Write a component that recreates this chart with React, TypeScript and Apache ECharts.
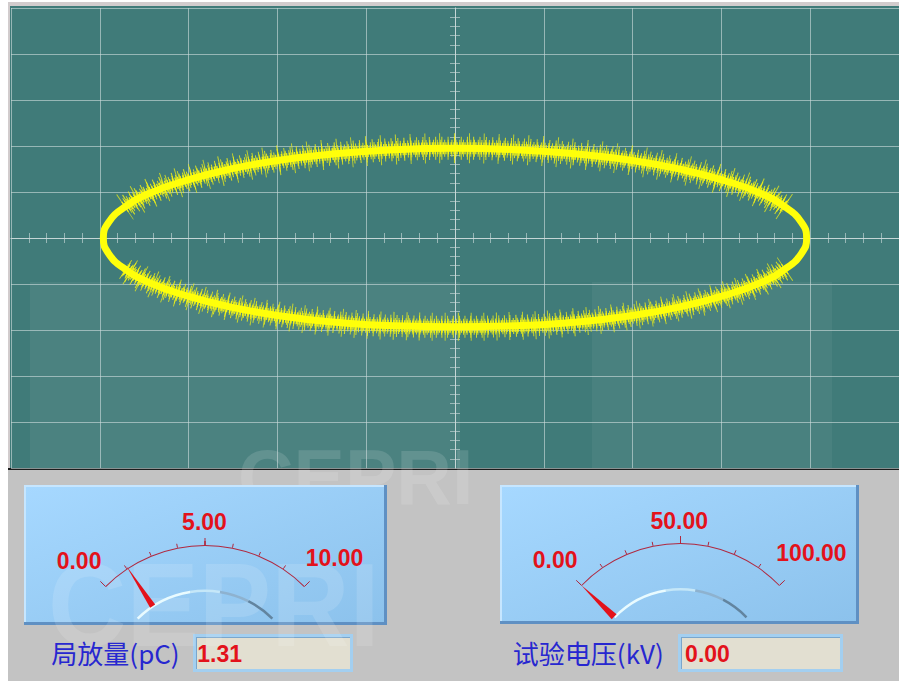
import React, { useEffect, useRef } from 'react';
import * as echarts from 'echarts';

// Lissajous trace (x: divisions, y: divisions), traced clockwise from the top
const ellipseX = [0, 0.69, 1.35, 1.98, 2.55, 3.03, 3.43, 3.72, 3.9, 3.96, 3.9, 3.72, 3.43, 3.03, 2.55, 1.98, 1.35, 0.69, 0, -0.69, -1.35, -1.98, -2.55, -3.03, -3.43, -3.72, -3.9, -3.96, -3.9, -3.72, -3.43, -3.03, -2.55, -1.98, -1.35, -0.69, 0];
const ellipseY = [1.95, 1.92, 1.83, 1.69, 1.49, 1.25, 0.98, 0.67, 0.34, 0, -0.34, -0.67, -0.98, -1.25, -1.49, -1.69, -1.83, -1.91, -1.93, -1.91, -1.83, -1.69, -1.49, -1.25, -0.98, -0.67, -0.34, 0, 0.34, 0.67, 0.98, 1.25, 1.49, 1.69, 1.83, 1.92, 1.95];

// meters
const gaugeNames = ['局放量(pC)', '试验电压(kV)'];
const gaugeValues = [1.31, 0.0];
const gaugeMax = [10, 100];
const gauge1Ticks = ['0.00', '5.00', '10.00'];
const gauge2Ticks = ['0.00', '50.00', '100.00'];

const TEAL = '#407b79';
const GRIDC = 'rgba(205,220,220,0.62)';
const RED = '#e3121b';
const ARC = '#b0283f';

const pts = ellipseX.map((x, i) => [x, ellipseY[i]]);
const topArc = [...pts.slice(29), ...pts.slice(1, 8)];
const bottomArc = pts.slice(11, 26);

const spike = (data: number[][], width: number, dash: number[], opacity: number, offset = 0) => ({
  type: 'line', data, smooth: 0.5, symbol: 'none', silent: true, z: 3,
  lineStyle: { width, type: dash, dashOffset: offset, color: '#f4f414', opacity, cap: 'butt' },
});

const centerAxisX = (position: string) => ({
  type: 'value', position, min: -5, max: 5, interval: 1,
  axisLine: { show: true, onZero: true, onZeroAxisIndex: 0, lineStyle: { color: GRIDC, width: 1 } },
  axisTick: { show: false },
  minorTick: { show: true, splitNumber: 5, length: 5, lineStyle: { color: GRIDC, width: 1 } },
  axisLabel: { show: false }, splitLine: { show: false },
});

const labelFont = { fontSize: 23, fontWeight: 'bold', fontFamily: 'Liberation Sans', color: RED };

const meterGauge = (center: number[], radius: number, start: number, end: number, idx: number, titleOff: number[], detailOff: number[], needle: number[]) => ({
  type: 'gauge', center, radius, startAngle: start, endAngle: end, min: 0, max: gaugeMax[idx], splitNumber: 2, z: 4,
  axisLine: { lineStyle: { width: 1, color: [[1, ARC]] } },
  splitLine: { length: 7, distance: -8, lineStyle: { color: ARC, width: 1 } },
  axisTick: { splitNumber: 4, length: 4, distance: -5, lineStyle: { color: ARC, width: 1 } },
  axisLabel: { show: false },
  pointer: { icon: 'path://M3,0 L6,48 L0,48 Z', length: needle[0], width: needle[1], offsetCenter: [0, -needle[2]], itemStyle: { color: RED } },
  anchor: { show: false },
  title: { offsetCenter: titleOff, fontSize: 26, color: '#2727d0', fontFamily: 'Noto Sans CJK SC' },
  detail: { offsetCenter: detailOff, formatter: (v: number) => v.toFixed(2), padding: 0, lineHeight: 23, width: 60, valueAnimation: false, ...labelFont },
  data: [{ value: gaugeValues[idx], name: gaugeNames[idx] }],
});

const arcGauge = (center: number[], radius: number, start: number, end: number) => ({
  type: 'gauge', center, radius, startAngle: start, endAngle: end, z: 3, silent: true,
  axisLine: { lineStyle: { width: 2.5, color: [[0.4, '#e9fbff'], [0.6, '#c5e7f8'], [0.8, '#8eb2cf'], [1, '#62849f']] } },
  splitLine: { show: false }, axisTick: { show: false }, axisLabel: { show: false },
  pointer: { show: false }, anchor: { show: false }, title: { show: false }, detail: { show: false },
  data: [{ value: 0 }],
});

const labelGauge = (center: number[], radius: number, start: number, end: number, max: number, ticks: string[], pads: number[][]) => ({
  type: 'gauge', center, radius, startAngle: start, endAngle: end, min: 0, max, splitNumber: 2, z: 4, silent: true,
  axisLine: { show: false, lineStyle: { width: 0 } },
  splitLine: { show: false, length: 0, distance: 0 }, axisTick: { show: false },
  axisLabel: {
    distance: 0,
    formatter: (v: number) => { const i = Math.round((v / max) * 2); return `{s${i}|${ticks[i]}}`; },
    rich: {
      s0: { ...labelFont, padding: pads[0] },
      s1: { ...labelFont, padding: pads[1] },
      s2: { ...labelFont, padding: pads[2] },
    },
  },
  pointer: { show: false }, anchor: { show: false }, title: { show: false }, detail: { show: false },
  data: [{ value: 0 }],
});

const bevelBox = (x: number, y: number, w: number, h: number) => [
  { type: 'rect', z: -10, shape: { x, y, width: w, height: h }, style: { fill: '#5f90c3' } },
  { type: 'rect', z: -10, shape: { x, y, width: w - 3, height: h - 3 }, style: { fill: '#c6e6ff' } },
  {
    type: 'rect', z: -10, shape: { x: x + 2, y: y + 2, width: w - 5, height: h - 5 },
    style: { fill: new echarts.graphic.LinearGradient(0, 0, 1, 1, [{ offset: 0, color: '#a6d8ff' }, { offset: 1, color: '#8cc2ec' }]) },
  },
];

const valueBox = (x: number, y: number, w: number, h: number) => [
  { type: 'rect', z: -10, shape: { x, y, width: w, height: h }, style: { fill: '#a3cff0' } },
  { type: 'rect', z: -10, shape: { x: x + 3, y: y + 3, width: w - 6, height: h - 6 }, style: { fill: '#7aa6cc' } },
  { type: 'rect', z: -10, shape: { x: x + 4, y: y + 4, width: w - 7, height: h - 7 }, style: { fill: '#e2dfd1' } },
];

const option = {
  animation: false,
  grid: { left: 11, top: 8, width: 891, height: 460, show: false },
  xAxis: [
    {
      type: 'value', min: -5, max: 5, interval: 1,
      axisLine: { show: false }, axisTick: { show: false }, axisLabel: { show: false },
      splitLine: { show: true, lineStyle: { color: GRIDC, width: 1 } },
    },
    centerAxisX('bottom'),
    centerAxisX('top'),
  ],
  yAxis: [
    {
      type: 'value', min: -5, max: 5, interval: 1,
      axisLine: { show: false }, axisTick: { show: false }, axisLabel: { show: false },
      splitLine: { show: true, lineStyle: { color: GRIDC, width: 1 } },
    },
    centerAxisX('left'),
    centerAxisX('right'),
  ],
  graphic: [
    { type: 'rect', z: -20, shape: { x: 8, y: 2, width: 891, height: 468 }, style: { fill: '#d2cccd' } },
    { type: 'rect', z: -20, shape: { x: 10, y: 6, width: 889, height: 462 }, style: { fill: TEAL } },
    { type: 'rect', z: -19, shape: { x: 30, y: 282, width: 430, height: 186 }, style: { fill: 'rgba(255,255,255,0.06)' } },
    { type: 'rect', z: -19, shape: { x: 592, y: 282, width: 240, height: 186 }, style: { fill: 'rgba(255,255,255,0.05)' } },
    { type: 'rect', z: -20, shape: { x: 8, y: 470, width: 891, height: 211 }, style: { fill: '#c3c3c3' } },
    { type: 'text', z: -18, x: 238, y: 438, style: { text: 'CEPRI', fontSize: 77, fontWeight: 'bold', fontFamily: 'Liberation Sans', fill: 'rgba(255,255,255,0.13)', verticalAlign: 'top' } },
    { type: 'rect', z: -20, shape: { x: 8, y: 468, width: 891, height: 2 }, style: { fill: '#1c1c1c' } },
    ...bevelBox(24, 485, 363, 140),
    ...bevelBox(500, 485, 359, 139),
    ...valueBox(193, 634, 160, 38),
    ...valueBox(678, 634, 165, 38),
    { type: 'text', z: -9, x: 48, y: 546, scaleX: 0.92, style: { text: 'CEPRI', fontSize: 118, fontWeight: 'bold', fontFamily: 'Liberation Sans', fill: 'rgba(255,255,255,0.13)', verticalAlign: 'top' } },
  ],
  series: [
    spike(topArc, 30, [1, 13.7], 0.7),
    spike(topArc, 23, [1, 5.3], 0.8, 2.1),
    spike(topArc, 17, [1, 2.7], 0.85, 1.3),
    spike(topArc, 12, [1.4, 1.3], 0.95),
    spike(bottomArc, 28, [1, 11.9], 0.7),
    spike(bottomArc, 22, [1, 4.7], 0.8, 1.7),
    spike(bottomArc, 16, [1, 2.6], 0.85, 1.1),
    spike(bottomArc, 12, [1.4, 1.3], 0.95),
    {
      type: 'line', data: pts, smooth: 0.5, symbol: 'none', silent: true, z: 4,
      lineStyle: { width: 7, color: '#ffff0a' },
    },
    arcGauge([205, 686], 96.5, 135, 45),
    arcGauge([680.5, 681], 93, 136, 44),
    meterGauge([205, 686], 141, 135, 45, 0, [-89.5, -34], [14.7, -32.3], [48, 6, 95.5]),
    meterGauge([680.5, 681], 138, 136, 44, 1, [-92.2, -29], [27, -27.2], [46, 7, 92.3]),
    labelGauge([204.5, 873.7], 363.7, 115.89, 64.11, 10, gauge1Ticks, [[3, 0, 0, 11], [0, 0, 0, 0], [0, 0, 0, 0]]),
    labelGauge([679.2, 856.4], 356.4, 118.03, 61.97, 100, gauge2Ticks, [[7, 0, 0, 21], [9.5, 0, 0, 0], [0, 0, 0, 0]]),
  ],
};

export default function App() {
  const ref = useRef<HTMLDivElement>(null);
  useEffect(() => {
    const chart = echarts.init(ref.current!, null, { renderer: 'svg' });
    chart.setOption(option as any);
    return () => chart.dispose();
  }, []);
  return <div ref={ref} style={{ position: 'absolute', left: 0, top: 0, width: 899, height: 681 }} />;
}
